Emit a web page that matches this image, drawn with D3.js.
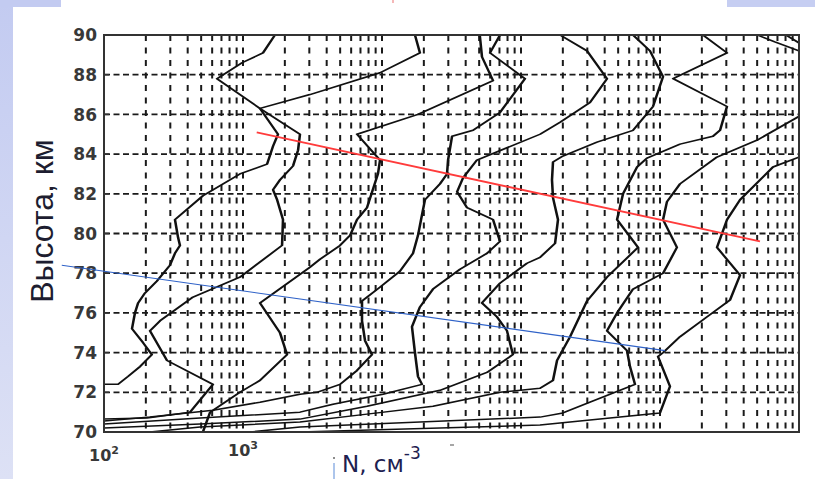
<!DOCTYPE html>
<html><head><meta charset="utf-8">
<script src="https://cdn.jsdelivr.net/npm/d3@7"></script>
<style>body{margin:0;background:#fff}svg{display:block}</style>
</head><body>
<svg id="c" width="815" height="479"></svg>
<script>
// ---------- data (altitude km, N cm^-3) ----------
const yTicks = [70,72,74,76,78,80,82,84,86,88,90];
const xLabelValues = [100, 1000];
const xLabelExps = ["2", "3"];
const yTitle = "Высота, км";
const xTitle = "N, см";
const xTitleExp = "-3";

const profileA = [[72.4,100],[72.4,126],[72.8,149],[73.3,182],[73.9,221],[74.5,191],[75.2,159],[76.0,167],[76.5,176],[77.0,197],[77.6,240],[78.4,298],[79.0,324],[79.4,352],[79.8,341],[80.7,324],[81.9,515],[83.0,950],[83.5,1490],[84.4,1645],[85.0,1786],[86.3,1325],[87.0,3030],[88.1,9680],[89.1,18750],[90.0,17260]];
const profileB = [[70.65,100],[70.7,204],[71.0,416],[72.4,608],[73.6,284],[75.1,214],[75.6,253],[76.8,437],[77.8,950],[79.4,1910],[80.7,1940],[81.7,1760],[82.2,1645],[82.7,1845],[83.4,2290],[84.2,2490],[85.0,2570],[86.3,1325],[87.8,650],[88.6,984],[89.1,1393],[90.0,1698]];
const profileC = [[70.0,515],[71.0,580],[72.0,950],[72.6,1325],[73.9,2075],[75.0,1845],[76.5,1325],[78.3,3030],[78.7,3580],[79.4,4990],[79.9,5890],[80.7,6610],[81.3,7800],[83.0,9350],[83.7,9680],[85.0,6610],[86.0,18150],[87.7,62950],[88.9,52400],[90.0,50500]];
const profileE = [[70.55,100],[70.76,214],[71.1,608],[71.5,1325],[71.9,2571],[72.0,3400],[72.4,4990],[73.1,6610],[73.9,8470],[74.6,7550],[75.6,7180],[76.6,7180],[77.3,9680],[78.1,13450],[79.0,16710],[79.9,18150],[80.7,19100],[81.7,20380],[82.5,26120],[83.0,29360],[83.7,29870],[84.9,31920],[85.2,45190],[86.1,70630],[87.8,106900],[89.1,59850],[90.0,70630]];
const profileF = [[70.4,100],[70.7,491],[71.0,2571],[71.4,4440],[71.9,10160],[72.4,19410],[72.8,18150],[74.0,17260],[75.3,16430],[76.3,18750],[77.2,23280],[78.2,36390],[79.0,56890],[79.6,70630],[80.7,62950],[81.3,40930],[82.1,34670],[82.8,38290],[83.7,48190],[85.0,137100],[85.6,191000],[86.6,313600],[87.8,415800],[89.2,298500],[90.0,191000]];
const profileG = [[70.2,100],[70.4,491],[70.65,2571],[71.3,7800],[72.1,26120],[73.0,56890],[73.9,87500],[75.1,79250],[75.8,67150],[76.5,52400],[77.5,70630],[78.5,110400],[78.8,137100],[79.5,175800],[80.7,184600],[81.8,169900],[82.7,167100],[83.6,169900],[83.9,200300],[84.6,352100],[85.2,639900],[86.4,891000],[87.9,1052000],[89.2,847000],[90.0,639900]];
const profileH = [[70.0,214],[70.25,491],[70.5,2571],[70.9,7800],[71.3,23280],[72.0,70630],[72.2,137100],[72.6,169900],[73.6,181600],[74.8,225400],[76.6,298500],[77.8,415800],[79.3,695000],[80.7,491000],[82.0,542000],[83.35,684000],[83.8,806000],[84.5,1393000],[84.9,2405000],[85.2,2703000],[86.4,3036000],[87.8,1242000],[89.1,3036000],[90.0,2037000]];
const profileI = [[70.0,1122],[70.25,2571],[70.75,137100],[70.96,200300],[71.5,313600],[72.4,661000],[73.3,608000],[74.1,579000],[75.1,415800],[76.0,491000],[77.2,639900],[78.0,1052000],[79.3,1324000],[80.7,1052000],[81.6,1122000],[82.5,1393000],[83.85,2570000],[84.7,4990000],[85.9,10000000]];
const profileJ = [[70.0,2571],[70.35,137100],[70.45,191000],[70.6,313600],[70.96,1000000],[72.3,1180000],[73.8,968000],[74.0,1052000],[74.8,1393000],[75.8,2178000],[76.65,3190000],[77.9,3767000],[79.3,2570000],[80.7,3036000],[81.7,3767000],[83.35,6500000],[83.85,10000000]];
const profileK = [[90.0,5000000],[89.65,6700000],[89.2,10000000]];
const profileL = [[90.0,8050000],[89.6,10000000]];
const profiles = [profileA, profileB, profileC, profileE, profileF, profileG, profileH, profileI, profileJ, profileK, profileL];

const redLine = [[85.1,1255],[79.6,5240000]];
const blueLine = [[78.4,49.7],[74.1,1087000]];

// ---------- layout ----------
const W = 815, H = 479;
const M = {left:104, right:799, top:35, bottom:432};
const S = 1.7; // horizontal stretch of the picture

const svg = d3.select('#c');
const defs = svg.append('defs');
const grad = defs.append('linearGradient').attr('id','bg').attr('x1',0).attr('y1',0).attr('x2',0).attr('y2',1);
grad.append('stop').attr('offset','0%').attr('stop-color','#c3cbf1');
grad.append('stop').attr('offset','100%').attr('stop-color','#dde1f5');

svg.append('rect').attr('width',W).attr('height',H).attr('fill','#fff');
svg.append('rect').attr('x',0).attr('y',0).attr('width',13).attr('height',H).attr('fill','url(#bg)');
svg.append('rect').attr('x',0).attr('y',0).attr('width',61).attr('height',7).attr('fill','#c3cbf1');
svg.append('rect').attr('x',727).attr('y',0).attr('width',88).attr('height',7).attr('fill','#c6cef2');
svg.append('line').attr('x1',393).attr('x2',393).attr('y1',0).attr('y2',3).attr('stroke','#f2a0a0').attr('stroke-width',1.5);

const x = d3.scaleLog().domain([1e2,1e7]).range([M.left,M.right]);
const y = d3.scaleLinear().domain([70,90]).range([M.bottom,M.top]);

// ---------- grid ----------
const vGrid = x.ticks().filter(v => v > 1e2*1.0001 && v < 1e7*0.9999);
svg.append('g').selectAll('line').data(vGrid).join('line')
  .attr('x1',d=>x(d)).attr('x2',d=>x(d)).attr('y1',M.top).attr('y2',M.bottom)
  .attr('stroke','#1a1a1a').attr('stroke-width',2).attr('stroke-dasharray','6,6.5');
svg.append('g').selectAll('line').data(yTicks.slice(1,-1)).join('line')
  .attr('x1',M.left).attr('x2',M.right).attr('y1',d=>y(d)).attr('y2',d=>y(d))
  .attr('stroke','#1a1a1a').attr('stroke-width',1.8).attr('stroke-dasharray','6,3.5');

// ---------- profiles (stretched group) ----------
const xs = d3.scaleLog().domain(x.domain()).range([0,(M.right-M.left)/S]);
defs.append('clipPath').attr('id','clip').append('rect')
  .attr('x',0).attr('y',M.top).attr('width',(M.right-M.left)/S).attr('height',M.bottom-M.top);
const g = svg.append('g').attr('transform',`translate(${M.left},0) scale(${S},1)`).attr('clip-path','url(#clip)');
const line = d3.line().x(d=>xs(d[1])).y(d=>y(d[0]));
g.selectAll('path').data(profiles).join('path')
  .attr('d',line).attr('fill','none').attr('stroke','#111')
  .attr('stroke-width',1.5).attr('stroke-linejoin','round');

// ---------- frame & ticks ----------
svg.append('rect').attr('x',M.left).attr('y',M.top).attr('width',M.right-M.left).attr('height',M.bottom-M.top)
  .attr('fill','none').attr('stroke','#333').attr('stroke-width',2);
svg.append('g').selectAll('line').data(yTicks).join('line')
  .attr('x1',M.left).attr('x2',M.left+5).attr('y1',d=>y(d)).attr('y2',d=>y(d))
  .attr('stroke','#333').attr('stroke-width',1.5);

// y tick labels
svg.append('g').selectAll('text').data(yTicks).join('text')
  .attr('x',97).attr('y',d=>y(d)).attr('dy','0.36em').attr('text-anchor','end')
  .attr('font-family','DejaVu Sans').attr('font-weight','bold').attr('font-size',17)
  .attr('fill','#383838').text(d=>d);

// x tick labels
const xl = svg.append('g').selectAll('text').data(xLabelValues).join('text')
  .attr('x',d=>x(d)).attr('y',(d,i)=> i===0 ? 461 : 456).attr('text-anchor','middle')
  .attr('font-family','DejaVu Sans').attr('font-weight','bold').attr('font-size',16).attr('fill','#383838');
xl.append('tspan').text('10');
xl.append('tspan').attr('dy',-7).attr('font-size',11).text((d,i)=>xLabelExps[i]);

// axis titles
svg.append('text').attr('transform','translate(53,221) rotate(-90)').attr('text-anchor','middle')
  .attr('font-family','Liberation Sans').attr('font-size',32).attr('fill','#1d1d30').text(yTitle);
const xt = svg.append('text').attr('x',342).attr('y',472)
  .attr('font-family','DejaVu Sans').attr('font-size',23).attr('fill','#1d2050');
xt.append('tspan').text(xTitle);
xt.append('tspan').attr('dy',-13).attr('font-size',17).text(xTitleExp);

// small marks under the axis
svg.append('line').attr('x1',334).attr('x2',334).attr('y1',463).attr('y2',479).attr('stroke','#5b8bd8').attr('stroke-width',1);
svg.append('circle').attr('cx',334).attr('cy',458).attr('r',1).attr('fill','#666');
svg.append('line').attr('x1',450).attr('x2',454).attr('y1',445).attr('y2',445).attr('stroke','#888').attr('stroke-width',1.5);

// ---------- red & blue lines ----------
const straight = d3.line().x(d=>x(d[1])).y(d=>y(d[0]));
svg.append('path').attr('d',straight(redLine)).attr('fill','none').attr('stroke','#ff3b3b').attr('stroke-width',1.8);
svg.append('path').attr('d',straight(blueLine)).attr('fill','none').attr('stroke','#2f62c8').attr('stroke-width',1.1);
</script>
</body></html>
